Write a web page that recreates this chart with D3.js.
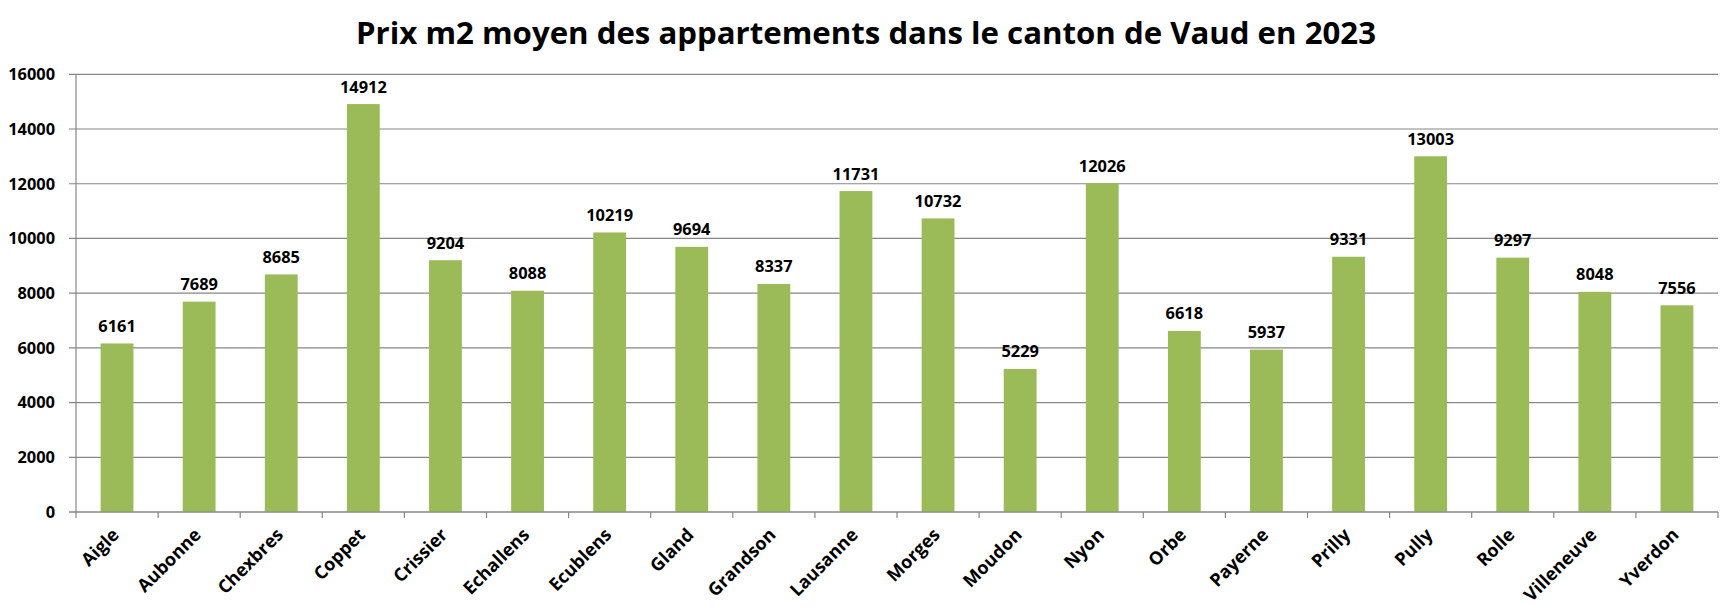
<!DOCTYPE html>
<html><head><meta charset="utf-8">
<script src="https://cdn.jsdelivr.net/npm/d3@7"></script>
<style>body{margin:0;background:#fff}svg{display:block}text{font-family:"Open Sans",Lato,sans-serif;font-weight:bold;fill:#000}</style>
</head><body>
<script>
const categories = ["Aigle","Aubonne","Chexbres","Coppet","Crissier","Echallens","Ecublens","Gland","Grandson","Lausanne","Morges","Moudon","Nyon","Orbe","Payerne","Prilly","Pully","Rolle","Villeneuve","Yverdon"];
const values = [6161,7689,8685,14912,9204,8088,10219,9694,8337,11731,10732,5229,12026,6618,5937,9331,13003,9297,8048,7556];
const yTicks = [0,2000,4000,6000,8000,10000,12000,14000,16000];
const title = "Prix m2 moyen des appartements dans le canton de Vaud en 2023";

(function () {
const W = 1732, H = 611;
const pL = 76, pR = 1718, pT = 74.3, pB = 512;
const svg = d3.select("body").append("svg").attr("width", W).attr("height", H);

const x = d3.scaleBand().domain(categories).range([pL, pR]).paddingInner(0.6).paddingOuter(0.3);
const xb = d3.scaleBand().domain(categories).range([pL, pR]);
const y = d3.scaleLinear().domain([0, 16000]).range([pB, pT]);

svg.append("text").attr("x", 866).attr("y", 44).attr("text-anchor", "middle")
  .style("font-size", "31.2px").text(title);

svg.append("g").selectAll("line").data(yTicks).join("line")
  .attr("x1", pL - 7).attr("x2", pR).attr("y1", d => y(d)).attr("y2", d => y(d))
  .attr("stroke", "#868686").attr("stroke-width", 1.2);

svg.append("g").selectAll("text").data(yTicks).join("text")
  .attr("x", 55).attr("y", d => y(d)).attr("dy", "0.36em").attr("text-anchor", "end")
  .style("font-size", "16.4px").text(d => d);

svg.append("line").attr("x1", pL).attr("x2", pL).attr("y1", pT).attr("y2", pB).attr("stroke", "#868686").attr("stroke-width", 1.2);

const bounds = categories.map(c => xb(c)).concat([pR]);
svg.append("g").selectAll("line").data(bounds).join("line")
  .attr("x1", d => d).attr("x2", d => d).attr("y1", pB).attr("y2", pB + 6)
  .attr("stroke", "#868686").attr("stroke-width", 1.2);

svg.append("g").selectAll("rect").data(values).join("rect")
  .attr("x", (d, i) => x(categories[i])).attr("width", x.bandwidth())
  .attr("y", d => y(d)).attr("height", d => pB - y(d)).attr("fill", "#9BBB59");

svg.append("line").attr("x1", pL - 7).attr("x2", pR).attr("y1", pB).attr("y2", pB).attr("stroke", "#868686").attr("stroke-width", 1.2);

svg.append("g").selectAll("text").data(values).join("text")
  .attr("x", (d, i) => x(categories[i]) + x.bandwidth() / 2).attr("y", d => y(d) - 11.5)
  .attr("text-anchor", "middle").style("font-size", "16.4px").text(d => d);

svg.append("g").selectAll("text").data(categories).join("text")
  .attr("transform", d => `translate(${xb(d) + xb.bandwidth() / 2 + 3},${pB + 24}) rotate(-45)`)
  .attr("text-anchor", "end").style("font-size", "18px").text(d => d);
})();
</script>
</body></html>
